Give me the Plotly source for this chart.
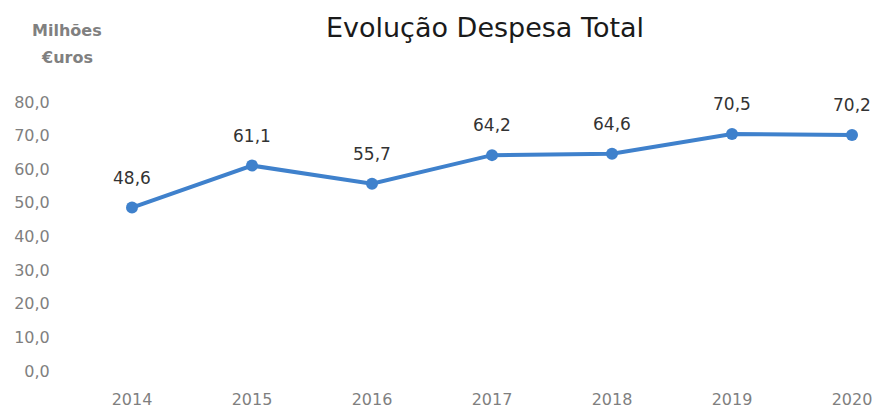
import plotly.graph_objects as go

years = [2014, 2015, 2016, 2017, 2018, 2019, 2020]
despesa = [48.6, 61.1, 55.7, 64.2, 64.6, 70.5, 70.2]
y_ticks = [0, 10, 20, 30, 40, 50, 60, 70, 80]
x_labels = [str(y) for y in years]

line_color = "#3f81cc"
font_family = "DejaVu Sans"

# the page body adds an 8px offset; margins compensate for it
OFF = 8
L, R, T, B = 60 - OFF, 10 + OFF, 102 - OFF, 41 + OFF
W, H = 880, 412
PW, PH = W - L - R, H - T - B

fig = go.Figure()
fig.add_trace(go.Scatter(
    x=years, y=despesa, mode="lines+markers",
    line=dict(color=line_color, width=4),
    marker=dict(color=line_color, size=12),
    cliponaxis=False, hoverinfo="skip", showlegend=False,
))

for x, v in zip(years, despesa):
    fig.add_annotation(
        x=x, y=v, text=f"{v:.1f}".replace(".", ","), showarrow=False,
        yshift=30, font=dict(family=font_family, size=17, color="#333333"),
    )

for txt, ypx in [("Milhões", 30), ("€uros", 58)]:
    fig.add_annotation(
        xref="paper", yref="paper",
        x=(67 - OFF - L) / PW, y=(H - B - (ypx - OFF)) / PH,
        text=f"<b>{txt}</b>", showarrow=False,
        font=dict(family=font_family, size=16, color="#808080"),
        xanchor="center", yanchor="middle",
    )

fig.update_layout(
    width=W, height=H,
    margin=dict(l=L, r=R, t=T, b=B, autoexpand=False),
    paper_bgcolor="white", plot_bgcolor="white",
    separators=",.",
    title=dict(text="Evolução Despesa Total", x=(485 - OFF) / W, xanchor="center",
               y=1 - (28 - OFF) / H, yanchor="middle",
               font=dict(family=font_family, size=27, color="#1a1a1a")),
    xaxis=dict(range=[2013.4, 2020.15], tickvals=years, ticktext=x_labels,
               showgrid=False, zeroline=False, showline=False, automargin=False,
               ticks="outside", ticklen=14, tickcolor="white",
               tickfont=dict(family=font_family, size=16, color="#7f7f7f")),
    yaxis=dict(range=[0, 80], tickvals=y_ticks, tickformat=".1f", automargin=False,
               showgrid=False, zeroline=False, showline=False,
               ticks="outside", ticklen=6, tickcolor="white",
               tickfont=dict(family=font_family, size=16, color="#7f7f7f")),
)

fig.write_html("out.html")
